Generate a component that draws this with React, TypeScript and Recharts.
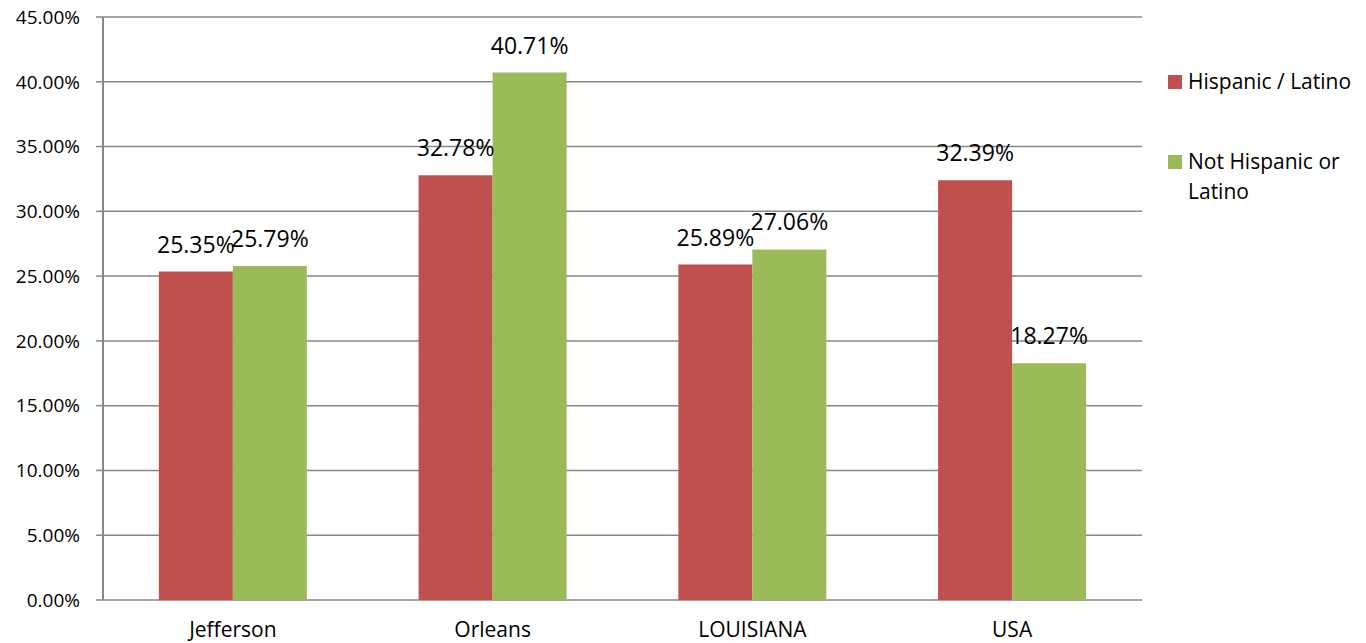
import React from 'react';
import { BarChart, Bar, XAxis, YAxis, CartesianGrid, LabelList, Legend } from 'recharts';

const categories = ['Jefferson', 'Orleans', 'LOUISIANA', 'USA'];
const hispanicLatino = [25.35, 32.78, 25.89, 32.39];
const notHispanicLatino = [25.79, 40.71, 27.06, 18.27];
const yTicks = [0, 5, 10, 15, 20, 25, 30, 35, 40, 45];
const seriesNames = ['Hispanic / Latino', 'Not Hispanic or Latino'];

const data = categories.map((c, i) => ({
  idx: i + 0.5,
  category: c,
  hispanic: hispanicLatino[i],
  notHispanic: notHispanicLatino[i],
}));

const FONT = '"Open Sans", sans-serif';
const GRID = '#878787';

const fmt = (v: any) => `${Number(v).toFixed(2)}%`;

const LegendContent = (props: any) => {
  const payload = props.payload || [];
  return (
    <div style={{ fontFamily: FONT, fontSize: 21, color: '#000', width: 190, textAlign: 'left' }}>
      {payload.map((p: any, i: number) => (
        <div key={i} style={{ display: 'flex', alignItems: 'flex-start', marginBottom: i === 0 ? 50 : 0 }}>
          <div style={{ width: 14, height: 14, background: p.color, marginTop: 9, marginRight: 6, flex: '0 0 14px' }} />
          <div style={{ lineHeight: '30px' }}>{p.value}</div>
        </div>
      ))}
    </div>
  );
};

export default function App() {
  return (
    <div style={{ position: 'absolute', left: 0, top: 0, width: 1366, height: 643, background: '#fff' }}>
      <BarChart
        width={1366}
        height={643}
        data={data}
        margin={{ top: 17, right: 224, bottom: 0, left: 0 }}
        barCategoryGap="21.5%"
        barGap={0}
      >
        <CartesianGrid horizontal vertical={false} stroke={GRID} strokeWidth={1.5} xAxisId="cat" />
        <XAxis
          xAxisId="edges"
          type="number"
          dataKey="idx"
          domain={[0, 4]}
          ticks={[0, 1, 2, 3, 4]}
          height={0}
          tickSize={9}
          axisLine={{ stroke: GRID, strokeWidth: 2 }}
          tickLine={{ stroke: GRID, strokeWidth: 2 }}
          tick={() => <g />}
          allowDataOverflow
        />
        <XAxis
          xAxisId="cat"
          dataKey="category"
          height={43}
          axisLine={false}
          tickLine={false}
          tickMargin={16}
          tick={{ fill: '#000', fontSize: 21, fontFamily: FONT }}
          interval={0}
        />
        <YAxis
          width={103}
          domain={[0, 45]}
          ticks={yTicks}
          tickFormatter={fmt}
          tickSize={7}
          tickMargin={16}
          axisLine={{ stroke: GRID, strokeWidth: 2 }}
          tickLine={{ stroke: GRID, strokeWidth: 1.5 }}
          tick={{ fill: '#000', fontSize: 19, fontFamily: FONT }}
          interval={0}
        />
        <Legend
          layout="horizontal"
          align="center"
          verticalAlign="middle"
          content={<LegendContent />}
          wrapperStyle={{ position: 'absolute', left: 1168, top: 66, width: 195 }}
        />
        <Bar xAxisId="cat" dataKey="hispanic" name={seriesNames[0]} fill="#C0504D" isAnimationActive={false}>
          <LabelList dataKey="hispanic" position="top" offset={19} formatter={fmt} fill="#000" fontSize={23} fontFamily={FONT} />
        </Bar>
        <Bar xAxisId="cat" dataKey="notHispanic" name={seriesNames[1]} fill="#9BBB59" isAnimationActive={false}>
          <LabelList dataKey="notHispanic" position="top" offset={19} formatter={fmt} fill="#000" fontSize={23} fontFamily={FONT} />
        </Bar>
      </BarChart>
    </div>
  );
}
